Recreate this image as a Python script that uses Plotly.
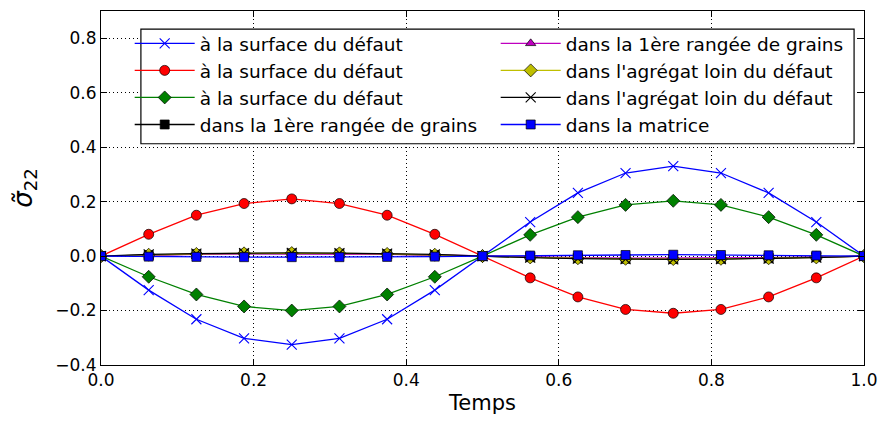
import plotly.graph_objects as go

temps = [i / 16 for i in range(17)]

surf_x = [0, -0.125, -0.232, -0.302, -0.325, -0.302, -0.232, -0.125, 0,
          0.125, 0.232, 0.305, 0.330, 0.305, 0.232, 0.125, 0]
surf_o = [0, 0.08, 0.150, 0.193, 0.210, 0.193, 0.150, 0.080, 0,
          -0.080, -0.150, -0.196, -0.210, -0.196, -0.150, -0.080, 0]
surf_d = [0, -0.076, -0.141, -0.185, -0.200, -0.185, -0.141, -0.076, 0,
          0.078, 0.143, 0.188, 0.203, 0.188, 0.143, 0.078, 0]
rang_s = [0, 0.004, 0.007, 0.009, 0.010, 0.009, 0.007, 0.004, 0,
          -0.004, -0.008, -0.010, -0.011, -0.010, -0.008, -0.004, 0]
rang_t = [0, 0.004, 0.006, 0.008, 0.008, 0.008, 0.006, 0.004, 0,
          -0.004, -0.006, -0.008, -0.008, -0.008, -0.006, -0.004, 0]
agr_d = [0, 0.005, 0.008, 0.010, 0.011, 0.010, 0.008, 0.005, 0,
         -0.005, -0.008, -0.010, -0.011, -0.010, -0.008, -0.005, 0]
agr_x = [0, 0.006, 0.009, 0.011, 0.012, 0.011, 0.009, 0.006, 0,
         -0.006, -0.009, -0.011, -0.012, -0.011, -0.009, -0.006, 0]
matrice = [0, -0.002, -0.003, -0.004, -0.004, -0.004, -0.003, -0.002, 0,
           0.002, 0.003, 0.004, 0.005, 0.004, 0.003, 0.002, 0]

labels = ["à la surface du défaut", "à la surface du défaut", "à la surface du défaut",
          "dans la 1ère rangée de grains", "dans la 1ère rangée de grains",
          "dans l'agrégat loin du défaut", "dans l'agrégat loin du défaut",
          "dans la matrice"]

series = [surf_x, surf_o, surf_d, rang_s, rang_t, agr_d, agr_x, matrice]
colors = ["#0000ff", "#ff0000", "#008000", "#000000", "#bf00bf", "#bfbf00", "#000000", "#0000ff"]
symbols = ["x-thin", "circle", "diamond", "square", "triangle-up", "diamond", "x-thin", "square"]
sizes = [10, 10, 10, 9, 9, 10, 10, 9]
ranks = [1, 3, 5, 7, 2, 4, 6, 8]

fig = go.Figure()
for y, lab, c, s, sz, r in zip(series, labels, colors, symbols, sizes, ranks):
    thin = s == "x-thin"
    fig.add_trace(go.Scatter(
        x=temps, y=y, name=lab, mode="lines+markers",
        line=dict(color=c, width=1.3),
        marker=dict(symbol=s, size=sz, color=c,
                    line=dict(color=c if thin else "black", width=1.1 if thin else 0.7)),
        legendrank=r,
    ))

# legend frame (white box) drawn above the traces, under the legend entries
fig.add_shape(type="rect", xref="paper", yref="paper",
              x0=0.0523, x1=0.987, y0=0.625, y1=0.949,
              line=dict(color="black", width=1.2), fillcolor="white", layer="above")

# the page body keeps its default 8px margin, so the figure is sized to fit the window
fig.update_layout(
    width=872, height=409,
    margin=dict(l=93, r=14, t=2, b=52),
    paper_bgcolor="white", plot_bgcolor="white",
    font=dict(family="DejaVu Sans", size=17, color="black"),
    showlegend=True,
    legend=dict(
        orientation="h", x=0.0376, y=0.961, xanchor="left", yanchor="top",
        entrywidth=291, entrywidthmode="pixels",
        borderwidth=0, bgcolor="rgba(0,0,0,0)",
        font=dict(size=18.5), tracegroupgap=0, itemwidth=60,
    ),
    xaxis=dict(
        range=[0, 1], dtick=0.2, tickformat=".1f",
        showline=True, linecolor="black", linewidth=1, mirror="ticks",
        ticks="inside", ticklen=6, tickcolor="black",
        showgrid=True, gridcolor="black", griddash="1px,3px", gridwidth=1,
        zeroline=False, tickfont=dict(size=17), ticklabeloverflow="allow",
        title=dict(text="Temps", font=dict(size=21), standoff=5),
    ),
    yaxis=dict(
        range=[-0.4, 0.9], tickvals=[-0.4, -0.2, 0.0, 0.2, 0.4, 0.6, 0.8], tickformat=".1f",
        showline=True, linecolor="black", linewidth=1, mirror="ticks",
        ticks="inside", ticklen=6, tickcolor="black",
        showgrid=True, gridcolor="black", griddash="1px,3px", gridwidth=1,
        zeroline=False, tickfont=dict(size=17),
        title=dict(text="<i>σ̃</i><sub>22</sub>", font=dict(size=26), standoff=20),
    ),
)

fig.write_html("out.html")
